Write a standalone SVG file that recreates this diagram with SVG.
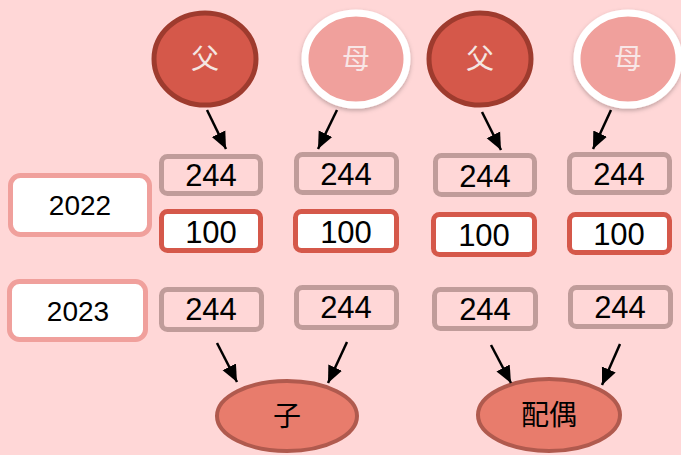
<svg xmlns="http://www.w3.org/2000/svg" width="681" height="455" viewBox="0 0 681 455">
<defs>
<style>
.bg{fill:#FFD7D7}
.father ellipse{fill:#D5584A;stroke:#9E3B2E;stroke-width:5}
.mother ellipse{fill:#F0A09C;stroke:#FFFFFF;stroke-width:7;filter:url(#sh)}
.ctext{font-family:"Noto Sans CJK SC","Noto Sans CJK JP",sans-serif;font-size:28px;text-anchor:middle}
.father text{fill:#F4E6E2}
.mother text{fill:#F8E6E6}
.gray rect{fill:none;stroke:#C09C9A;stroke-width:5}
.red rect{fill:#FFFFFF;stroke:#D5584A;stroke-width:5}
.year rect{fill:#FFFFFF;stroke:#F0A09C;stroke-width:5}
.num{font-family:"Liberation Sans",Arial,sans-serif;font-size:31px;text-anchor:middle;fill:#000}
.yr{font-family:"Liberation Sans",Arial,sans-serif;font-size:28px;text-anchor:middle;fill:#000}
.child ellipse{fill:#E87C6C;stroke:#B05A4E;stroke-width:4}
.child text{fill:#000}
.conn path{stroke:#000;stroke-width:2.5;fill:none;marker-end:url(#ah)}
</style>
<marker id="ah" markerUnits="userSpaceOnUse" markerWidth="18" markerHeight="18" viewBox="0 0 18 18" refX="17" refY="9" orient="auto">
<path d="M0,1.5 L17,9 L0,16.5 Z" fill="#000"/>
</marker>
<filter id="sh" x="-20%" y="-20%" width="140%" height="150%">
<feDropShadow dx="0" dy="2" stdDeviation="2" flood-color="#000" flood-opacity="0.25"/>
</filter>
</defs>
<rect class="bg" x="0" y="0" width="681" height="455"/>

<g id="father1" class="father"><ellipse cx="205" cy="59" rx="51" ry="46"/><text class="ctext" x="205" y="69">父</text></g>
<g id="mother1" class="mother"><ellipse cx="356" cy="59" rx="51" ry="46"/><text class="ctext" x="356" y="69">母</text></g>
<g id="father2" class="father"><ellipse cx="480" cy="59" rx="51" ry="46"/><text class="ctext" x="480" y="69">父</text></g>
<g id="mother2" class="mother"><ellipse cx="628" cy="59" rx="51" ry="46"/><text class="ctext" x="628" y="69">母</text></g>

<g id="year2022" class="year"><rect x="10.5" y="175.5" width="139" height="59" rx="10"/><text class="yr" x="80" y="215">2022</text></g>
<g id="year2023" class="year"><rect x="9.5" y="281.5" width="136" height="58" rx="10"/><text class="yr" x="78" y="321">2023</text></g>

<g id="f1-2022" class="gray"><rect x="161.5" y="156.5" width="99" height="37" rx="6"/><text class="num" x="211" y="186">244</text></g>
<g id="m1-2022" class="gray"><rect x="296.5" y="154.5" width="100" height="38" rx="6"/><text class="num" x="346" y="185">244</text></g>
<g id="f2-2022" class="gray"><rect x="435.5" y="155.5" width="99" height="39" rx="6"/><text class="num" x="485" y="187">244</text></g>
<g id="m2-2022" class="gray"><rect x="569.5" y="154.5" width="100" height="38" rx="6"/><text class="num" x="619" y="185">244</text></g>

<g id="f1-100" class="red"><rect x="161.5" y="211.5" width="99" height="39" rx="6"/><text class="num" x="211" y="243">100</text></g>
<g id="m1-100" class="red"><rect x="295.5" y="211.5" width="101" height="39" rx="6"/><text class="num" x="346" y="243">100</text></g>
<g id="f2-100" class="red"><rect x="433.5" y="214.5" width="101" height="40" rx="6"/><text class="num" x="484" y="246">100</text></g>
<g id="m2-100" class="red"><rect x="569.5" y="214.5" width="100" height="38" rx="6"/><text class="num" x="619" y="245">100</text></g>

<g id="f1-2023" class="gray"><rect x="161.5" y="289.5" width="100" height="40" rx="6"/><text class="num" x="211" y="320">244</text></g>
<g id="m1-2023" class="gray"><rect x="296.5" y="287.5" width="100" height="40" rx="6"/><text class="num" x="346" y="318">244</text></g>
<g id="f2-2023" class="gray"><rect x="434.5" y="289.5" width="101" height="39" rx="6"/><text class="num" x="485" y="320">244</text></g>
<g id="m2-2023" class="gray"><rect x="570.5" y="287.5" width="100" height="39" rx="6"/><text class="num" x="620" y="318">244</text></g>

<g id="child" class="child"><ellipse cx="287" cy="416" rx="70" ry="35"/><text class="ctext" x="287" y="426">子</text></g>
<g id="spouse" class="child"><ellipse cx="549" cy="415" rx="71" ry="36"/><text class="ctext" x="549" y="425">配偶</text></g>

<g id="connectors" class="conn">
<path d="M207,110 L226,149"/>
<path d="M337,110 L318,149"/>
<path d="M482,112 L501,150"/>
<path d="M611,110 L593,149"/>
<path d="M217,343 L237,382"/>
<path d="M347,342 L328,383"/>
<path d="M491,345 L511,383"/>
<path d="M620,344 L602,385"/>
</g>
</svg>
